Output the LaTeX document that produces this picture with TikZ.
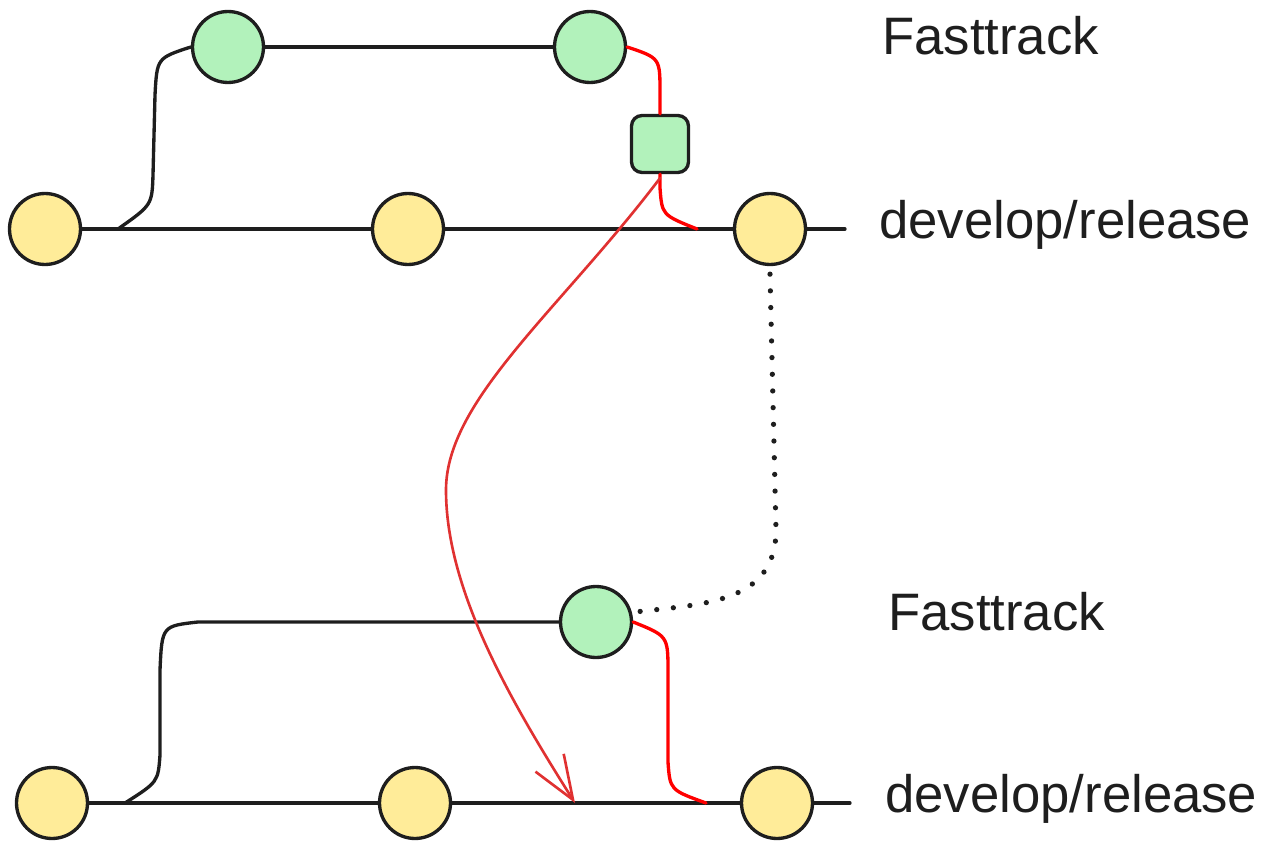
\documentclass[tikz,border=0pt]{standalone}
\usepackage{fontspec}
\setmainfont{Liberation Sans}
\usetikzlibrary{arrows.meta}

\definecolor{devfill}{HTML}{FFEC99}
\definecolor{fastfill}{HTML}{B2F2BB}
\definecolor{ink}{HTML}{1E1E1E}
\definecolor{pickred}{HTML}{E03131}

\tikzset{
	devcommit/.style={circle, draw=ink, fill=devfill, line width=1.9pt, minimum size=1.42cm, inner sep=0pt},
	fastcommit/.style={circle, draw=ink, fill=fastfill, line width=1.9pt, minimum size=1.42cm, inner sep=0pt},
	fixbox/.style={rectangle, rounded corners=6pt, draw=ink, fill=fastfill, line width=1.9pt, minimum size=1.14cm, inner sep=0pt},
	branchline/.style={draw=ink, line width=1.9pt},
	mergeline/.style={draw=red, line width=1.9pt},
	label/.style={anchor=base west, text=ink, font=\fontsize{30}{36}\selectfont},
}

\begin{document}
\begin{tikzpicture}[line cap=round,line join=round,x=0.02cm,y=-0.02cm]
	\useasboundingbox (0,0) rectangle (1271,841);
	%Branche develop du haut
	\node[devcommit] (d1) at (45,229) {};
	\node[devcommit] (d2) at (408,229) {};
	\node[devcommit] (d3) at (770,229) {};
	\coordinate (d1end) at (845,229);
	\coordinate (d1fork) at (118,229);
	\coordinate (d1merge) at (697,229);
	%Fasttrack du haut
	\node[fastcommit] (f1) at (228,47) {};
	\node[fastcommit] (f2) at (590,47) {};
	\node[fixbox] (fix) at (660,144) {};
	%Branche develop du bas
	\node[devcommit] (d4) at (52,803) {};
	\node[devcommit] (d5) at (415,803) {};
	\node[devcommit] (d6) at (777,803) {};
	\coordinate (d2end) at (850,803);
	\coordinate (d2fork) at (125,803);
	\coordinate (d2merge) at (706,803);
	\coordinate (pickend) at (575,803);
	%Fasttrack du bas
	\node[fastcommit] (f3) at (596,622) {};
	%textes
	\node[label] (t1) at (876,55) {Fasttrack};
	\node[label] (t2) at (873,238) {develop/release};
	\node[label] (t3) at (882,630) {Fasttrack};
	\node[label] (t4) at (879,812) {develop/release};

	%traits du haut
	\draw[branchline] (d1) -- (d2) -- (d3) -- (d1end);
	\draw[branchline] (d1fork) .. controls (152,205) .. (153,175) -- (155,95) .. controls (157,58) .. (f1.west);
	\draw[branchline] (f1) -- (f2);
	\draw[mergeline] (f2.east) .. controls (660,58) .. (660,92) -- (fix.north);
	\draw[mergeline] (fix.south) -- (660,188) .. controls (662,215) .. (d1merge);
	%traits du bas
	\draw[branchline] (d2fork) .. controls (158,782) .. (160,755) -- (160,670) .. controls (162,626) .. (198,622) -- (f3.west);
	\draw[branchline] (d4) -- (d5) -- (d6) -- (d2end);
	\draw[mergeline] (f3.east) .. controls (668,636) .. (668,672) -- (668,762) .. controls (670,790) .. (d2merge);
	%cherry-pick et lien
	\draw[draw=pickred, line width=1.5pt, -{Straight Barb[length=25pt,width=19pt,line width=1.5pt]}]
		([yshift=-0.08cm]fix.south) .. controls (560,310) and (446,400) .. (446,490)
		.. controls (446,590) and (510,700) .. (pickend);
	\draw[ink, line width=3pt, dash pattern=on 0pt off 9.5pt]
		([yshift=-0.16cm]d3.south) -- (776,530) .. controls (776,605) and (700,604) .. (f3.15);
\end{tikzpicture}
\end{document}
